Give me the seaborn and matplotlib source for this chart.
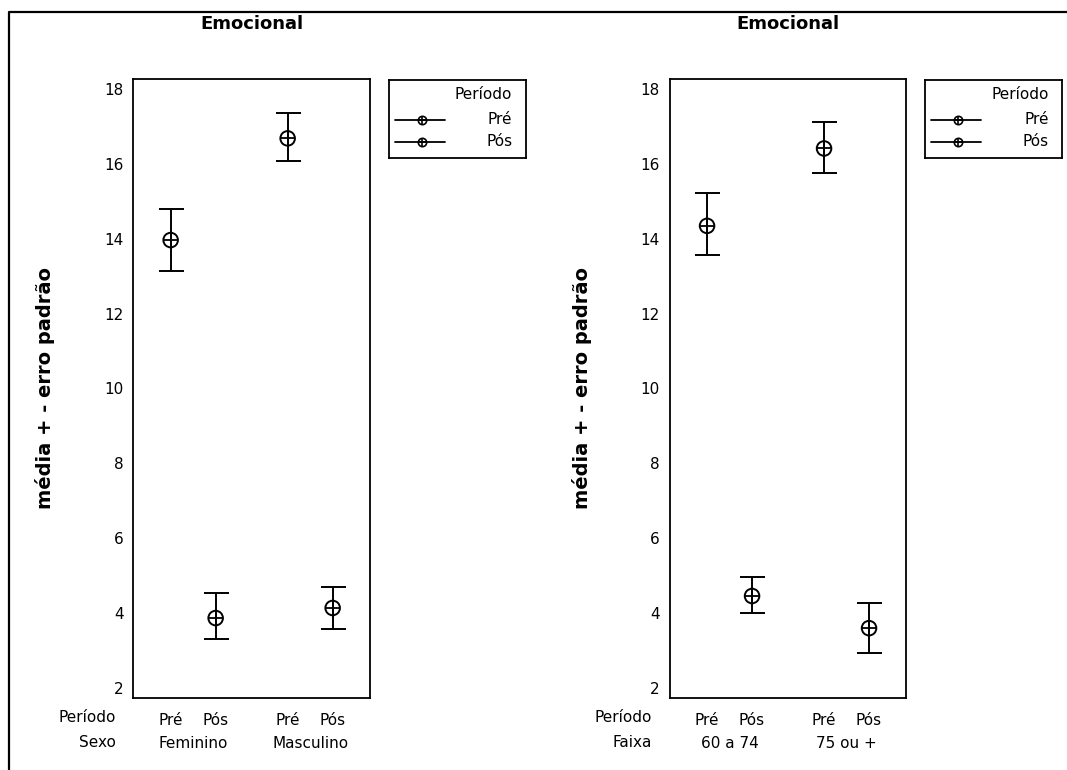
import matplotlib
matplotlib.use("Agg")
import matplotlib.pyplot as plt
import matplotlib.transforms as mtransforms
from matplotlib.lines import Line2D
import numpy as np
import pandas as pd
import seaborn as sns

# data (mean, mean + se, mean - se)
periodo = ["Pré", "Pós"]

sexo_grupos = ["Feminino", "Masculino"]
sexo_media = [13.97, 3.86, 16.69, 4.13]
sexo_sup = [14.80, 4.53, 17.37, 4.69]
sexo_inf = [13.15, 3.31, 16.09, 3.57]

faixa_grupos = ["60 a 74", "75 ou +"]
faixa_media = [14.35, 4.45, 16.42, 3.59]
faixa_sup = [15.22, 4.96, 17.14, 4.27]
faixa_inf = [13.58, 4.00, 15.76, 2.93]

y_ticks = [2, 4, 6, 8, 10, 12, 14, 16, 18]

titulo = "Emocional"
y_label = "média + - erro padrão"

W, H = 1067, 770
GROUP_STEP = 2.6


def make_frame(grupos, media, sup, inf):
    rows = []
    for g, grupo in enumerate(grupos):
        for p, per in enumerate(periodo):
            i = g * len(periodo) + p
            rows.append({
                "grupo": grupo,
                "periodo": per,
                "pos": g * GROUP_STEP + p,
                "media": media[i],
                "sup": sup[i],
                "inf": inf[i],
            })
    return pd.DataFrame(rows)


def px_rect(left, top, right, bottom):
    return [left / W, 1 - bottom / H, (right - left) / W, (bottom - top) / H]


def draw_panel(fig, left_px, grupos, media, sup, inf, var_name):
    df = make_frame(grupos, media, sup, inf)
    ax = fig.add_axes(px_rect(left_px, 79.3, left_px + 236.7, 697.7))

    ax.errorbar(
        df["pos"], df["media"],
        yerr=[df["media"] - df["inf"], df["sup"] - df["media"]],
        fmt="none", ecolor="black", elinewidth=1.4, capsize=9, capthick=1.4,
        zorder=2,
    )
    sns.scatterplot(
        data=df, x="pos", y="media", marker="o", s=110,
        facecolors="none", edgecolor="black", linewidth=1.4,
        legend=False, ax=ax, zorder=3,
    )
    sns.scatterplot(
        data=df, x="pos", y="media", marker="+", s=110,
        color="black", linewidth=1.3, legend=False, ax=ax, zorder=3,
    )

    ax.set_xlim(-0.83, GROUP_STEP + 1 + 0.83)
    ax.set_ylim(1.73, 18.27)
    ax.set_yticks(y_ticks)
    ax.set_yticklabels([str(t) for t in y_ticks], fontsize=11)
    ax.set_xticks(df["pos"])
    ax.set_xticklabels(df["periodo"], fontsize=11)
    ax.tick_params(axis="y", length=4, width=1.1, pad=3)
    ax.tick_params(axis="x", length=5, width=1.1, pad=6)
    ax.set_xlabel("")
    ax.set_ylabel("")
    for sp in ax.spines.values():
        sp.set_visible(True)
        sp.set_linewidth(1.3)
        sp.set_color("black")

    ax.set_title(titulo, fontsize=13, fontweight="bold", pad=36)

    # second row of category labels (group names)
    trans = mtransforms.blended_transform_factory(ax.transData, ax.transAxes)
    for g, grupo in enumerate(grupos):
        xm = g * GROUP_STEP + 0.5
        ax.annotate(grupo, xy=(xm, 0), xycoords=trans, xytext=(0, -33),
                    textcoords="offset points", ha="center", va="center",
                    fontsize=11)
    # row titles left of the axis
    for txt, dy in [("Período", -14.6), (var_name, -32.6)]:
        ax.annotate(txt, xy=(0, 0), xycoords="axes fraction",
                    xytext=(-12.5, dy), textcoords="offset points",
                    ha="right", va="center", fontsize=11)

    fig.text((left_px - 88) / W, 1 - 388 / H, y_label, rotation=90,
             ha="center", va="center", fontsize=14, fontweight="bold")

    # legend box
    lx = left_px + 255.4
    lax = fig.add_axes(px_rect(lx, 80, lx + 137, 158.3))
    lax.set_xlim(0, 137)
    lax.set_ylim(78.3, 0)
    lax.set_xticks([])
    lax.set_yticks([])
    for sp in lax.spines.values():
        sp.set_visible(True)
        sp.set_linewidth(1.3)
        sp.set_color("black")
    lax.text(123.6, 15, "Período", ha="right", va="center", fontsize=11)
    for per, yy in zip(periodo, [40, 61.7]):
        lax.plot([6.3, 56.3], [yy, yy], color="black", lw=1.3)
        lax.plot([33], [yy], marker="o", ms=6, mfc="none", mec="black", mew=1.2)
        lax.plot([33], [yy], marker="+", ms=6, mec="black", mew=1.2)
        lax.text(123.6, yy, per, ha="right", va="center", fontsize=11)
    return ax


sns.set_theme(style="white")
plt.rcParams["font.family"] = ["DejaVu Sans"]
plt.rcParams["text.color"] = "black"
plt.rcParams["xtick.color"] = "black"
plt.rcParams["ytick.color"] = "black"

fig = plt.figure(figsize=(W / 100, H / 100), dpi=100)
fig.patch.set_facecolor("white")

draw_panel(fig, 133.3, sexo_grupos, sexo_media, sexo_sup, sexo_inf, "Sexo")
draw_panel(fig, 669.7, faixa_grupos, faixa_media, faixa_sup, faixa_inf, "Faixa")

# outer frame (top and left edges visible in the reference)
fig.add_artist(Line2D([9 / W, 9 / W, 1], [0, 1 - 12 / H, 1 - 12 / H],
                      transform=fig.transFigure, color="black", lw=1.6))

fig.savefig("out.png", dpi=100)
